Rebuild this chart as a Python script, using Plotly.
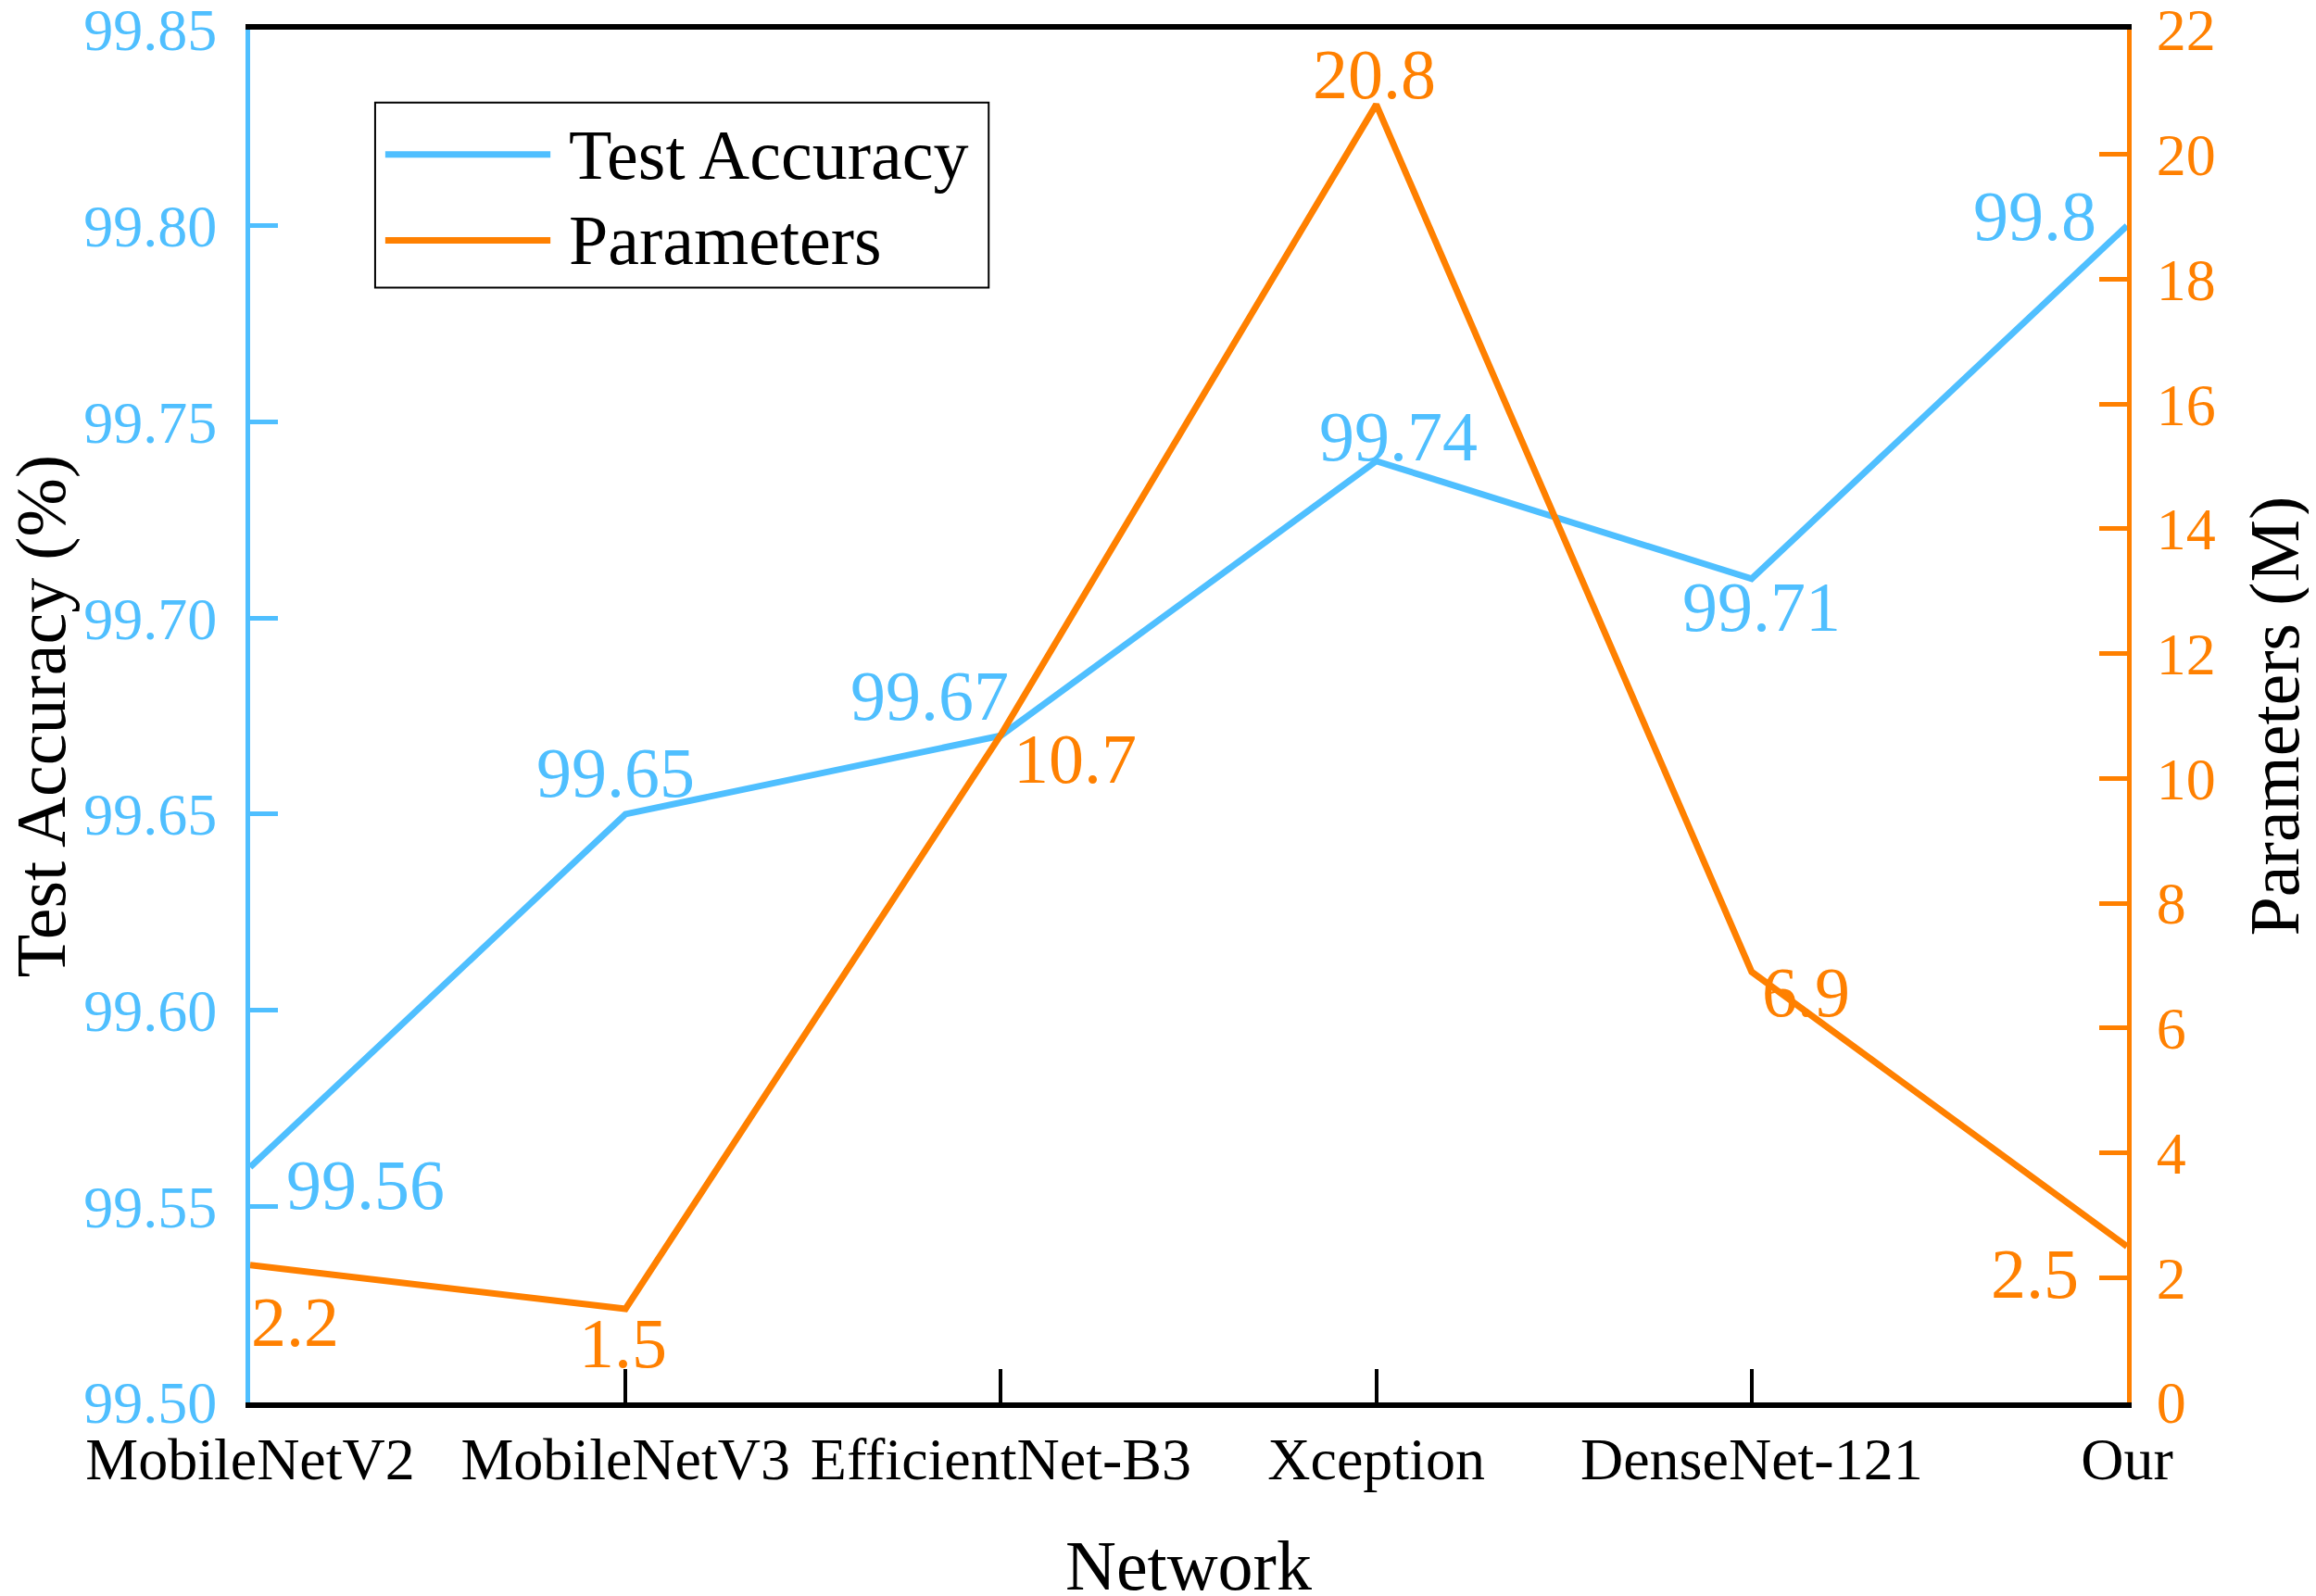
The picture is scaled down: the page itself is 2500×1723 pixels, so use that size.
import plotly.graph_objects as go

networks = ["MobileNetV2", "MobileNetV3", "EfficientNet-B3", "Xception", "DenseNet-121", "Our"]
accuracy = [99.56, 99.65, 99.67, 99.74, 99.71, 99.8]
params = [2.2, 1.5, 10.7, 20.8, 6.9, 2.5]
acc_labels = ["99.56", "99.65", "99.67", "99.74", "99.71", "99.8"]
param_labels = ["2.2", "1.5", "10.7", "20.8", "6.9", "2.5"]
acc_ticks = [99.50, 99.55, 99.60, 99.65, 99.70, 99.75, 99.80, 99.85]
param_ticks = [0, 2, 4, 6, 8, 10, 12, 14, 16, 18, 20, 22]

# label offsets in pixels (x, y) from each point
acc_shift = [(124, -19), (-11, 45), (-77, 43), (24, 27), (11, -30), (-100, 11)]
param_shift = [(48, -61), (-3, -37), (80, -26), (-2, 33), (59, -22), (-100, -29)]

blue = "#4FBFFF"
orange = "#FF8000"
font = "Liberation Serif"

fig = go.Figure()
fig.add_trace(go.Scatter(x=networks, y=accuracy, mode="lines",
                         line=dict(color=blue, width=7), showlegend=False))
fig.add_trace(go.Scatter(x=networks, y=params, mode="lines", yaxis="y2",
                         line=dict(color=orange, width=7), showlegend=False))

for x, y, t, (dx, dy) in zip(networks, accuracy, acc_labels, acc_shift):
    fig.add_annotation(x=x, y=y, text=t, showarrow=False, xshift=dx, yshift=dy,
                       font=dict(size=76, family=font, color=blue))
for x, y, t, (dx, dy) in zip(networks, params, param_labels, param_shift):
    fig.add_annotation(x=x, y=y, yref="y2", text=t, showarrow=False, xshift=dx, yshift=dy,
                       font=dict(size=76, family=font, color=orange))

# hand-made legend with long line samples
fig.add_shape(type="rect", xref="paper", yref="paper", x0=0.0666, x1=0.3935, y0=0.8121, y1=0.9468,
              line=dict(color="black", width=2), fillcolor="white", layer="below")
fig.add_shape(type="line", xref="paper", yref="paper", x0=0.072, x1=0.160, y0=0.909, y1=0.909,
              line=dict(color=blue, width=7))
fig.add_shape(type="line", xref="paper", yref="paper", x0=0.072, x1=0.160, y0=0.8465, y1=0.8465,
              line=dict(color=orange, width=7))
fig.add_annotation(text="Test Accuracy", xref="paper", yref="paper", x=0.1686, y=0.909, xanchor="left",
                   yanchor="middle", showarrow=False, font=dict(size=76, family=font, color="black"))
fig.add_annotation(text="Parameters", xref="paper", yref="paper", x=0.1686, y=0.8465, xanchor="left",
                   yanchor="middle", showarrow=False, font=dict(size=76, family=font, color="black"))

# axis titles placed by hand
fig.add_annotation(text="Test Accuracy (%)", xref="paper", yref="paper", x=-0.1114, y=0.5,
                   xanchor="center", yanchor="middle", textangle=-90, showarrow=False,
                   font=dict(size=76, family=font, color="black"))
fig.add_annotation(text="Network", xref="paper", yref="paper", x=0.5, y=-0.1188,
                   xanchor="center", yanchor="middle", showarrow=False,
                   font=dict(size=76, family=font, color="black"))

fig.update_layout(
    width=2492, height=1715,
    margin=dict(l=262, r=204, t=24, b=209),
    plot_bgcolor="white", paper_bgcolor="white",
    font=dict(family=font, size=64, color="black"),
    xaxis=dict(range=[0, 5], showline=True, linecolor="black", linewidth=6, mirror=True,
               ticks="inside", ticklen=36, tickwidth=4, tickcolor="black",
               ticklabelstandoff=0, showgrid=False, zeroline=False, automargin=False,
               tickfont=dict(size=64)),
    yaxis=dict(range=[99.5, 99.85], tickvals=acc_ticks, tickformat=".2f",
               showline=True, linecolor=blue, linewidth=5, ticks="inside", ticklen=30, tickwidth=5,
               tickcolor=blue, tickfont=dict(color=blue, size=64), ticklabelstandoff=18,
               ticklabeloverflow="allow", automargin=False,
               showgrid=False, zeroline=False),
    yaxis2=dict(title=dict(text="Parameters (M)", font=dict(size=76, color="black"), standoff=39),
                range=[0, 22], tickvals=param_ticks, overlaying="y", side="right",
                showline=True, linecolor=orange, linewidth=5, ticks="inside", ticklen=30, tickwidth=5,
                tickcolor=orange, tickfont=dict(color=orange, size=64), ticklabelstandoff=14,
                ticklabeloverflow="allow", automargin=False,
                showgrid=False, zeroline=False),
)

fig.write_html("out.html")
